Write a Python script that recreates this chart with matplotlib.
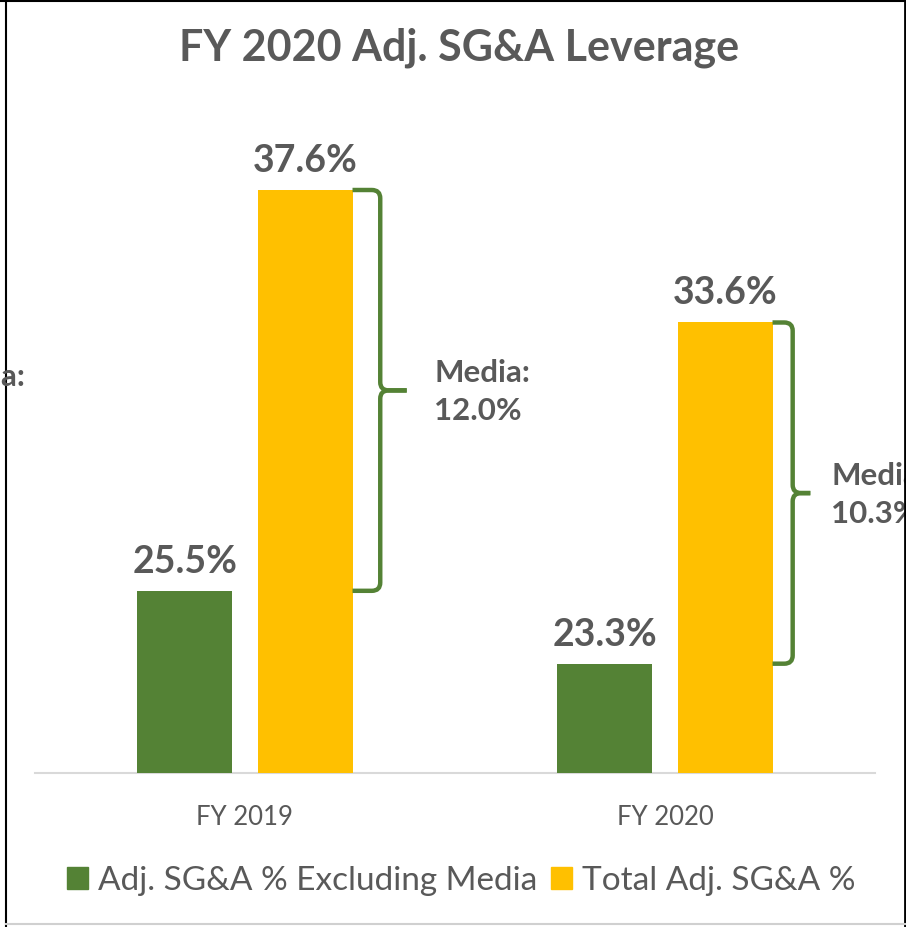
import matplotlib
matplotlib.use("Agg")
import matplotlib.pyplot as plt
from matplotlib.path import Path
from matplotlib.patches import PathPatch, Patch
from matplotlib.lines import Line2D
import numpy as np

# data
years = ["FY 2019", "FY 2020"]
ex_media = [25.5, 23.3]
total = [37.6, 33.6]
media = [12.0, 10.3]
series_names = ["Adj. SG&A % Excluding Media", "Total Adj. SG&A %"]

GREEN = "#548235"
YELLOW = "#FFC000"
TEXT = "#595959"
FONT = "Lato"

W, H = 906, 927
fig = plt.figure(figsize=(W / 100, H / 100), dpi=100)
fig.patch.set_facecolor("white")

# axes box in pixel terms -> figure fractions
ax = fig.add_axes([35 / W, (H - 773) / H, 840 / W, (773 - 110.5) / H])
ax.set_facecolor("none")
ax.set_xlim(-0.5, 1.5)
ax.set_ylim(20, 40)

x = np.arange(len(years))
off = 0.143
bw = 0.226
ax.bar(x - off, ex_media, bw, color=GREEN, zorder=3)
ax.bar(x + off, total, bw, color=YELLOW, zorder=3)

# value labels
for xi, v in zip(x - off, ex_media):
    ax.annotate(f"{v:.1f}%", (xi, v), xytext=(0, 13), textcoords="offset points",
                ha="center", va="baseline", fontsize=27, fontweight="bold",
                color=TEXT, family=FONT)
for xi, v in zip(x + off, total):
    ax.annotate(f"{v:.1f}%", (xi, v), xytext=(0, 13), textcoords="offset points",
                ha="center", va="baseline", fontsize=27, fontweight="bold",
                color=TEXT, family=FONT)

# curly brackets showing the media share
vert_off = [0.322, 0.304]
tip_off = [0.385, 0.346]
text_off = [0.451, 0.396]
rx, ry = 0.02, 0.25
for i in range(len(years)):
    xe = x[i] + off + bw / 2
    xv = x[i] + vert_off[i]
    xt = x[i] + tip_off[i]
    top, bot = total[i], ex_media[i]
    mid = (top + bot) / 2
    for end, sgn in ((top, -1), (bot, 1)):
        verts = [(xe, end), (xv - rx, end), (xv, end), (xv, end + sgn * ry),
                 (xv, mid - sgn * ry), (xv, mid), (xv + rx, mid), (xt, mid)]
        codes = [Path.MOVETO, Path.LINETO, Path.CURVE3, Path.CURVE3,
                 Path.LINETO, Path.CURVE3, Path.CURVE3, Path.LINETO]
        ax.add_patch(PathPatch(Path(verts, codes), fill=False, edgecolor=GREEN,
                               lw=3.2, capstyle="butt", joinstyle="round",
                               clip_on=False, zorder=4))
    ax.text(x[i] + text_off[i], mid - 0.05, f"Media:\n{media[i]:.1f}%",
            ha="left", va="center", fontsize=22.5, fontweight="bold",
            color=TEXT, family=FONT, linespacing=1.45, clip_on=False)

# leftover label cut by the left edge of the slide crop
fig.text(25 / W, 1 - 386 / H, "Media:", ha="right", va="baseline",
         fontsize=22.5, fontweight="bold", color=TEXT, family=FONT)

# axis styling
for s in ["left", "right", "top"]:
    ax.spines[s].set_visible(False)
ax.spines["bottom"].set_color("#D9D9D9")
ax.spines["bottom"].set_linewidth(1.5)
ax.set_yticks([])
ax.set_xticks(x)
ax.set_xticklabels(years, fontsize=18.5, color=TEXT, family=FONT)
ax.tick_params(axis="x", length=0, pad=23)

# title
fig.text(459 / W, 1 - 61 / H, "FY 2020 Adj. SG&A Leverage", ha="center",
         va="baseline", fontsize=31, fontweight="bold", color=TEXT, family=FONT)

# legend
handles = [Patch(color=GREEN), Patch(color=YELLOW)]
leg = fig.legend(handles, series_names, loc="center", ncol=2,
                 bbox_to_anchor=(461 / W, 1 - 881 / H), frameon=False,
                 prop={"family": FONT, "size": 24}, handlelength=0.63,
                 handleheight=0.63, handletextpad=0.3, columnspacing=0.42)
for t in leg.get_texts():
    t.set_color(TEXT)

# slide frame
fig.add_artist(Line2D([5.5 / W, 5.5 / W], [0, 1], color="black", lw=1.5,
                      transform=fig.transFigure))
fig.add_artist(Line2D([0, 1], [1 - 0.8 / H, 1 - 0.8 / H], color="black", lw=1.5,
                      transform=fig.transFigure))
fig.add_artist(Line2D([1 - 1.2 / W, 1 - 1.2 / W], [0, 1], color="black", lw=2,
                      transform=fig.transFigure))
fig.add_artist(Line2D([5.5 / W, 1], [3 / H, 3 / H], color="#D0D0D0", lw=1.5,
                      transform=fig.transFigure))

fig.savefig("out.png", dpi=100)
